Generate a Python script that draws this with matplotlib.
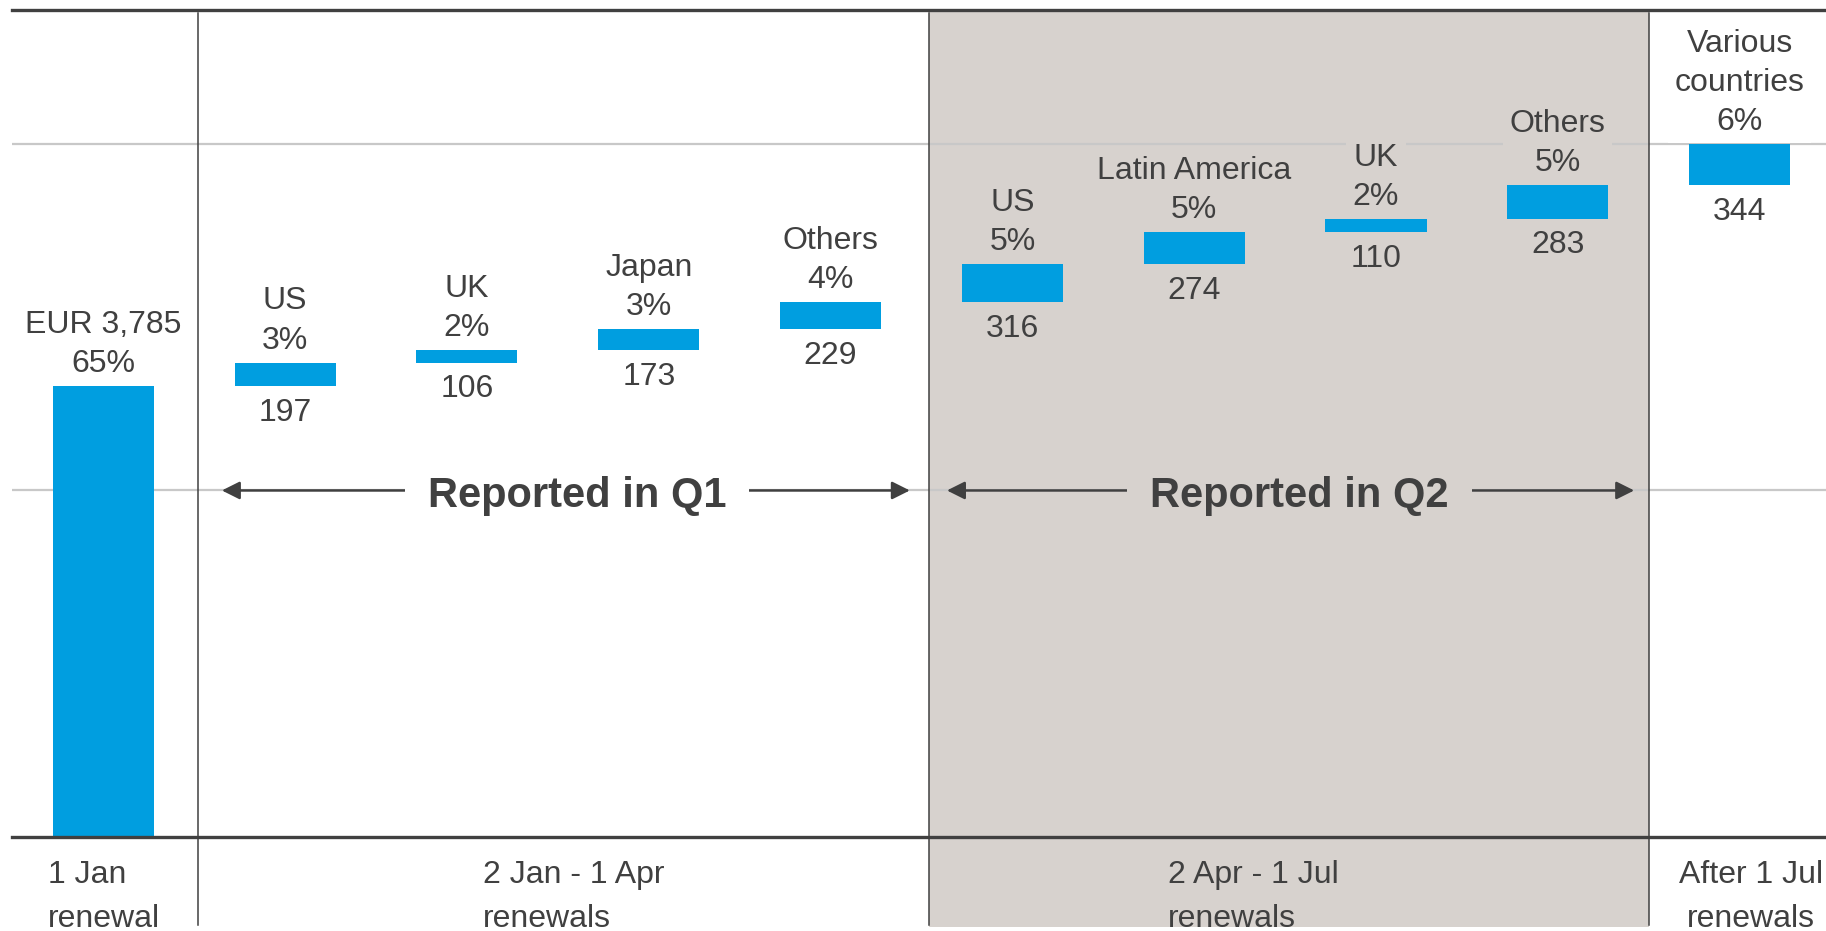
import matplotlib.pyplot as plt
import matplotlib.transforms as mtransforms
from matplotlib.patches import Rectangle

plt.rcParams['font.family'] = ['Liberation Sans', 'DejaVu Sans']

# Data
names = ["EUR 3,785", "US", "UK", "Japan", "Others",
         "US", "Latin America", "UK", "Others", "Various\ncountries"]
values = [3785, 197, 106, 173, 229, 316, 274, 110, 283, 344]
shares = [65, 3, 2, 3, 4, 5, 5, 2, 5, 6]
periods = ["1 Jan\nrenewal", "2 Jan - 1 Apr\nrenewals",
           "2 Apr - 1 Jul\nrenewals", "After 1 Jul\nrenewals"]
quarters = ["Reported in Q1", "Reported in Q2"]

blue = "#009ee0"
shade = "#d7d2ce"
dark = "#404040"
grid = "#c8c8c8"

# waterfall bottoms
bottoms = [0]
for v in values[:-1]:
    bottoms.append(bottoms[-1] + v)
total = bottoms[-1] + values[-1]
x = list(range(len(values)))

fig = plt.figure(figsize=(18.26, 9.31), dpi=100)
ax = fig.add_axes([0.0068, 0.101, 0.9932, 0.8883])
ax.set_xlim(-0.5, 9.475)
ax.set_ylim(0, total * 827 / 693)
ax.set_xticks([])
ax.set_yticks([])
for s in ["left", "right"]:
    ax.spines[s].set_visible(False)
for s in ["top", "bottom"]:
    ax.spines[s].set_linewidth(2.4)
    ax.spines[s].set_color(dark)
    ax.spines[s].set_zorder(5)

trans = mtransforms.blended_transform_factory(ax.transData, ax.transAxes)

# shaded Q2 block and dividers
dividers = [0.52, 4.54, 8.5]
ax.add_patch(Rectangle((dividers[1], -0.109), dividers[2] - dividers[1], 1.109,
                       transform=trans, clip_on=False, facecolor=shade,
                       edgecolor="none", zorder=0))
for d in dividers:
    ax.plot([d, d], [-0.107, 0.996], transform=trans, clip_on=False,
            color=dark, lw=1.1, zorder=1)

# gridlines at half and full total
ax.axhline(total / 2, color=grid, lw=1.6, zorder=0.5)
ax.axhline(total, color=grid, lw=1.6, zorder=0.5)

ax.bar(x, values, bottom=bottoms, width=0.556, color=blue, zorder=2)

for i in x:
    bg = shade if 5 <= i <= 8 else "white"
    ax.annotate(f"{names[i]}\n{shares[i]}%", xy=(i, bottoms[i] + values[i]),
                xytext=(0, 5), textcoords="offset points", ha="center",
                va="bottom", fontsize=23, color=dark, zorder=3, linespacing=1.4,
                bbox=dict(boxstyle="square,pad=0.2", fc=bg, ec="none"))
    if i > 0:
        ax.annotate(f"{values[i]}", xy=(i, bottoms[i]), xytext=(0, -8.5),
                    textcoords="offset points", ha="center", va="top",
                    fontsize=23, color=dark, zorder=3)

# "Reported in" arrows
arrow_spans = [(0.652, 4.436), (4.64, 8.42)]
text_x = [2.604, 6.58]
text_bg = ["white", shade]
for (a, b), tx, q, bg in zip(arrow_spans, text_x, quarters, text_bg):
    ax.annotate("", xy=(b, total / 2), xytext=(a, total / 2),
                arrowprops=dict(arrowstyle="<|-|>,head_length=0.4,head_width=0.2",
                                mutation_scale=27, lw=1.8, color=dark,
                                shrinkA=0, shrinkB=0), zorder=3)
    ax.annotate(q, xy=(tx, total / 2), xytext=(0, -12), textcoords="offset points",
                ha="center", va="baseline", fontsize=30, fontweight="bold",
                color=dark, zorder=4,
                bbox=dict(boxstyle="square,pad=0.55", fc=bg, ec="none"))

# period labels under the axis
period_x = [-0.305, 2.087, 5.855, 9.062]
period_ha = ["left", "left", "left", "center"]
for px, lab, ha in zip(period_x, periods, period_ha):
    ax.annotate(lab, xy=(px, 0), xytext=(0, -16.5), textcoords="offset points",
                ha=ha, va="top", fontsize=23, color=dark, linespacing=1.6,
                annotation_clip=False)

fig.savefig("out.png", dpi=100)
